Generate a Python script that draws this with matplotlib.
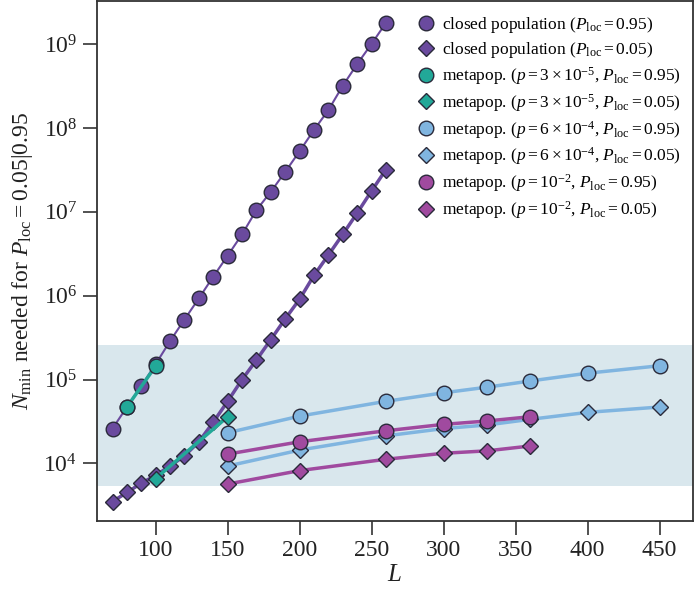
import matplotlib
matplotlib.use("Agg")
import matplotlib.pyplot as plt
import numpy as np

plt.rcParams['font.family'] = ['Liberation Serif', 'DejaVu Serif']
plt.rcParams['mathtext.fontset'] = 'custom'
plt.rcParams['mathtext.rm'] = 'Liberation Serif'
plt.rcParams['mathtext.it'] = 'Liberation Serif:italic'
plt.rcParams['mathtext.bf'] = 'Liberation Serif:bold'

# ---- data ----
L_closed = [70, 80, 90, 100, 110, 120, 130, 140, 150, 160, 170, 180, 190, 200,
            210, 220, 230, 240, 250, 260]
closed_095 = [2.6e4, 4.7e4, 8.4e4, 1.53e5, 2.88e5, 5.2e5, 9.3e5, 1.69e6, 3.0e6, 5.4e6,
              1.05e7, 1.74e7, 3.0e7, 5.3e7, 9.5e7, 1.64e8, 3.2e8, 5.8e8, 1.01e9, 1.8e9]
closed_005 = [3.5e3, 4.5e3, 5.8e3, 7.2e3, 9.3e3, 1.23e4, 1.81e4, 3.1e4, 5.5e4, 1.0e5,
              1.71e5, 3.0e5, 5.3e5, 9.1e5, 1.75e6, 3.06e6, 5.4e6, 9.7e6, 1.78e7, 3.2e7]

L_p1_095 = [80, 100]
p1_095 = [4.7e4, 1.45e5]
L_p1_005 = [100, 150]
p1_005 = [6.6e3, 3.6e4]

L_meta = [150, 200, 260, 300, 330, 360, 400, 450]
p2_095 = [2.32e4, 3.66e4, 5.5e4, 6.95e4, 8.1e4, 9.6e4, 1.19e5, 1.46e5]
p2_005 = [9.3e3, 1.44e4, 2.13e4, 2.6e4, 2.87e4, 3.35e4, 4.06e4, 4.7e4]

L_p3 = [150, 200, 260, 300, 330, 360]
p3_095 = [1.29e4, 1.81e4, 2.45e4, 2.92e4, 3.2e4, 3.6e4]
p3_005 = [5.67e3, 8.2e3, 1.12e4, 1.32e4, 1.41e4, 1.61e4]

shade_range = [5.3e3, 2.55e5]
x_ticks = [100, 150, 200, 250, 300, 350, 400, 450]
y_ticks = [1e4, 1e5, 1e6, 1e7, 1e8, 1e9]

labels = [
    r'closed population ($P_{\mathrm{loc}}=0.95$)',
    r'closed population ($P_{\mathrm{loc}}=0.05$)',
    r'metapop. ($p=3\times10^{-5}$, $P_{\mathrm{loc}}=0.95$)',
    r'metapop. ($p=3\times10^{-5}$, $P_{\mathrm{loc}}=0.05$)',
    r'metapop. ($p=6\times10^{-4}$, $P_{\mathrm{loc}}=0.95$)',
    r'metapop. ($p=6\times10^{-4}$, $P_{\mathrm{loc}}=0.05$)',
    r'metapop. ($p=10^{-2}$, $P_{\mathrm{loc}}=0.95$)',
    r'metapop. ($p=10^{-2}$, $P_{\mathrm{loc}}=0.05$)',
]

c_closed = '#6a4a9e'
c_p1 = '#22a898'
c_p2 = '#80b5e0'
c_p3 = '#a04a9f'
edge = '#2a2a3a'

fig = plt.figure(figsize=(6.94, 5.92), dpi=100)
ax = fig.add_axes([0.1393, 0.1204, 0.8587, 0.8784])

ax.axhspan(shade_range[0], shade_range[1], color='#d9e7ed', zorder=0, lw=0)

ms_c = 10.5
ms_d = 8.5
handles = []
def series(x, y, color, marker, lw, ms, z):
    ln, = ax.plot(x, y, color=color, lw=lw, zorder=z)
    mk, = ax.plot(x, y, ls='none', marker=marker, ms=ms, mfc=color, mec=edge,
                  mew=1.0, zorder=z + 0.5)
    return mk

h1 = series(L_closed, closed_095, c_closed, 'o', 1.5, ms_c, 2)
h2 = series(L_closed, closed_005, c_closed, 'D', 2.5, ms_d, 2)
h3 = series(L_p1_095, p1_095, c_p1, 'o', 2.5, ms_c, 3)
h4 = series(L_p1_005, p1_005, c_p1, 'D', 2.5, ms_d, 3)
h5 = series(L_meta, p2_095, c_p2, 'o', 2.5, ms_c, 3)
h6 = series(L_meta, p2_005, c_p2, 'D', 2.5, ms_d, 3)
h7 = series(L_p3, p3_095, c_p3, 'o', 2.5, ms_c, 4)
h8 = series(L_p3, p3_005, c_p3, 'D', 2.5, ms_d, 4)

ax.set_yscale('log')
ax.set_xlim(59, 473)
ax.set_ylim(2.07e3, 3.3e9)
ax.set_xticks(x_ticks)
ax.set_xticklabels([str(v) for v in x_ticks])
ax.set_yticks(y_ticks)
ax.set_yticklabels([r'$10^{%d}$' % int(np.log10(v)) for v in y_ticks])
ax.minorticks_off()
ax.tick_params(axis='both', direction='out', length=10, width=1.2, colors='#333333',
               labelsize=17, labelcolor='#222222', pad=4)
for s in ax.spines.values():
    s.set_linewidth(1.3)
    s.set_color('#333333')

ax.set_xlabel(r'$L$', fontsize=18, labelpad=2, color='#222222')
ax.set_ylabel(r'$N_{\mathrm{min}}$ needed for $P_{\mathrm{loc}}=0.05|0.95$',
              fontsize=17, labelpad=6, color='#222222')

leg = ax.legend([h1, h2, h3, h4, h5, h6, h7, h8], labels, loc='upper right',
                frameon=False, fontsize=12.5, handlelength=1.0, handletextpad=0.4,
                labelspacing=0.28, borderaxespad=0.3, bbox_to_anchor=(1.0, 0.995))

fig.savefig('out.png', dpi=100)
